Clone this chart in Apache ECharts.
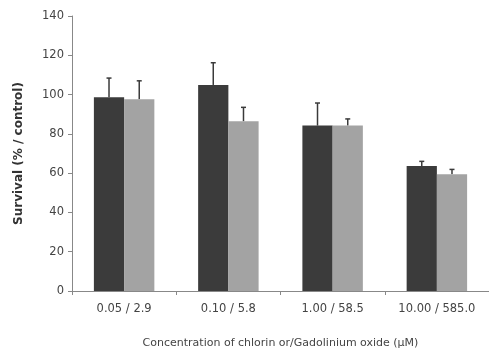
<!DOCTYPE html>
<html><head><meta charset="utf-8">
<script src="https://cdn.jsdelivr.net/npm/echarts@6/dist/echarts.min.js"></script>
<style>html,body{margin:0;padding:0;background:#fff}#c{width:489px;height:354px}</style>
</head><body><div id="c"></div>
<script>
var categories = ['0.05 / 2.9', '0.10 / 5.8', '1.00 / 58.5', '10.00 / 585.0'];
var chlorin = [98.6, 104.9, 84.2, 63.6];
var chlorinErr = [9.8, 11.3, 11.5, 2.4];
var gadolinium = [97.6, 86.4, 84.2, 59.4];
var gadoliniumErr = [9.4, 7.1, 3.4, 2.5];
var yTicks = [0, 20, 40, 60, 80, 100, 120, 140];

var chart = echarts.init(document.getElementById('c'));
function errSeries(vals, errs, idx) {
  return {
    type: 'custom',
    data: vals.map(function (v, i) { return [i, v, v + errs[i]]; }),
    z: 1,
    renderItem: function (params, api) {
      var i = api.value(0);
      var base = api.coord([i, api.value(1)]);
      var top = api.coord([i, api.value(2)]);
      var bw = api.size([1, 0])[0];
      var barW = bw * 0.29;
      var x = base[0] + (idx === 0 ? -barW / 2 : barW / 2);
      var c = '#3a3a3a';
      return {
        type: 'group',
        children: [
          { type: 'line', shape: { x1: x, y1: base[1], x2: x, y2: top[1] }, style: { stroke: c, lineWidth: 1.5 } },
          { type: 'line', shape: { x1: x - 2.5, y1: top[1], x2: x + 2.5, y2: top[1] }, style: { stroke: c, lineWidth: 1.5 } }
        ]
      };
    }
  };
}
chart.setOption({
  animation: false,
  grid: { left: 72, top: 16, right: 0, bottom: 62 },
  xAxis: {
    type: 'category', data: categories,
    axisLine: { lineStyle: { color: '#888', width: 1 } },
    axisTick: { show: true, alignWithLabel: false, length: 4, lineStyle: { color: '#888' } },
    axisLabel: { color: '#444', fontSize: 11.5, fontFamily: 'DejaVu Sans', margin: 12 },
    name: 'Concentration of chlorin or/Gadolinium oxide (\u00b5M)',
    nameLocation: 'middle', nameGap: 47,
    nameTextStyle: { color: '#444', fontSize: 11, fontFamily: 'DejaVu Sans' }
  },
  yAxis: {
    type: 'value', min: yTicks[0], max: yTicks[yTicks.length - 1], interval: 20,
    axisLine: { show: true, lineStyle: { color: '#888', width: 1 } },
    axisTick: { show: true, length: 4, lineStyle: { color: '#888' } },
    splitLine: { show: false },
    axisLabel: { color: '#444', fontSize: 11.5, fontFamily: 'DejaVu Sans', margin: 8 },
    name: 'Survival (% / control)', nameLocation: 'middle', nameGap: 47,
    nameTextStyle: { color: '#333', fontSize: 12, fontWeight: 'bold', fontFamily: 'DejaVu Sans' }
  },
  series: [
    { type: 'bar', data: chlorin, barWidth: '29%', barGap: '0%', itemStyle: { color: '#3b3b3b' }, z: 2 },
    { type: 'bar', data: gadolinium, barWidth: '29%', barGap: '0%', itemStyle: { color: '#a3a3a3' }, z: 2 },
    errSeries(chlorin, chlorinErr, 0),
    errSeries(gadolinium, gadoliniumErr, 1)
  ]
});
</script></body></html>
